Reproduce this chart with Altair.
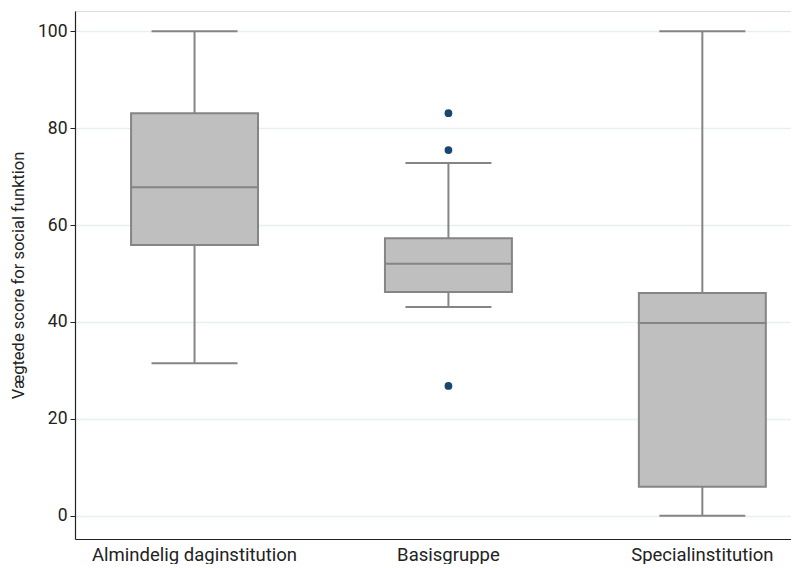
import altair as alt
import pandas as pd

groups = ["Almindelig daginstitution", "Basisgruppe", "Specialinstitution"]
whisker_low = [31.5, 43.1, 0.0]
q1 = [55.9, 46.2, 6.0]
median = [67.8, 52.0, 39.8]
q3 = [83.1, 57.3, 46.0]
whisker_high = [100.0, 72.8, 100.0]

outlier_groups = ["Basisgruppe", "Basisgruppe", "Basisgruppe"]
outlier_values = [83.1, 75.5, 26.8]

y_ticks = [0, 20, 40, 60, 80, 100]

stats = pd.DataFrame({
    "group": groups, "lo": whisker_low, "q1": q1, "med": median,
    "q3": q3, "hi": whisker_high,
})
outs = pd.DataFrame({"group": outlier_groups, "value": outlier_values})

FONT = "Roboto"
BOX_FILL = "#bfbfbf"
BOX_STROKE = "#858585"

x_enc = alt.X(
    "group:N", sort=groups, title=None,
    scale=alt.Scale(paddingInner=0.5, paddingOuter=0.16, align=0.69),
    axis=alt.Axis(labelAngle=0, ticks=False, labelFontSize=18.5, labelFont=FONT,
                  labelColor="#222222", labelPadding=6, labelLimit=400,
                  labelOverlap=False, domainColor="#222222",
                  domainWidth=1.2, grid=False),
)
y_scale = alt.Scale(domain=[-4.8, 104.2], nice=False, zero=False)
y_axis = alt.Axis(values=y_ticks, title="Vægtede score for social funktion",
                  titleFontSize=16.5, titleFont=FONT, titleFontWeight="normal",
                  titleColor="#222222", titlePadding=11,
                  labelFontSize=17.5, labelFont=FONT, labelColor="#222222",
                  tickColor="#222222", tickSize=5, labelPadding=3,
                  domainColor="#222222", domainWidth=1.2,
                  grid=True, gridColor="#e6f0f1", gridWidth=1.5)

base = alt.Chart(stats)

whisk_low = base.mark_rule(color=BOX_STROKE, strokeWidth=2).encode(
    x=x_enc, y=alt.Y("lo:Q", scale=y_scale, axis=y_axis), y2="q1:Q")
whisk_high = base.mark_rule(color=BOX_STROKE, strokeWidth=2).encode(
    x=x_enc, y=alt.Y("q3:Q", scale=y_scale), y2="hi:Q")
box = base.mark_bar(fill=BOX_FILL, stroke=BOX_STROKE, strokeWidth=2).encode(
    x=x_enc, y=alt.Y("q1:Q", scale=y_scale), y2="q3:Q")
med = base.mark_tick(color=BOX_STROKE, thickness=2, size=129, opacity=1).encode(
    x=x_enc, y=alt.Y("med:Q", scale=y_scale))
cap_lo = base.mark_tick(color=BOX_STROKE, thickness=2, size=86, opacity=1).encode(
    x=x_enc, y=alt.Y("lo:Q", scale=y_scale))
cap_hi = base.mark_tick(color=BOX_STROKE, thickness=2, size=86, opacity=1).encode(
    x=x_enc, y=alt.Y("hi:Q", scale=y_scale))
pts = alt.Chart(outs).mark_circle(color="#1a476f", size=60, opacity=1).encode(
    x=x_enc, y=alt.Y("value:Q", scale=y_scale))

chart = alt.layer(whisk_low, whisk_high, box, med, cap_lo, cap_hi, pts).properties(
    width=716, height=528,
    padding={"left": 2, "top": 3, "right": 0, "bottom": 0},
).configure_view(stroke=None).configure(background="white")

chart.save("out.html", embed_options={"renderer": "svg", "actions": False})
